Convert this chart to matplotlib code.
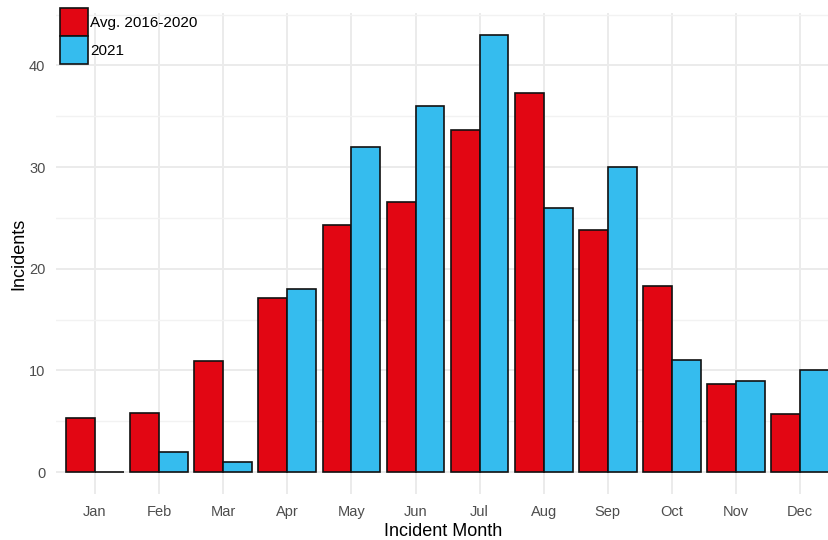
import numpy as np
import matplotlib.pyplot as plt
from matplotlib.patches import Patch

plt.rcParams['font.family'] = ['Liberation Sans', 'DejaVu Sans']

months = ['Jan', 'Feb', 'Mar', 'Apr', 'May', 'Jun', 'Jul', 'Aug', 'Sep', 'Oct', 'Nov', 'Dec']
avg_2016_2020 = [5.3, 5.8, 10.9, 17.1, 24.3, 26.6, 33.6, 37.3, 23.8, 18.3, 8.7, 5.7]
y2021 = [0, 2, 1, 18, 32, 36, 43, 26, 30, 11, 9, 10]

red = '#E20613'
blue = '#35BCEE'

fig = plt.figure(figsize=(8.29, 5.4), dpi=100)
ax = fig.add_axes([56.5 / 829, 46 / 540, 1 - 56.5 / 829, 481 / 540])

x = np.arange(1, len(months) + 1)
w = 0.45
ax.bar(x - w / 2, avg_2016_2020, width=w, color=red, edgecolor='#111111', linewidth=1.2, zorder=3)
ax.bar(x + w / 2, y2021, width=w, color=blue, edgecolor='#111111', linewidth=1.2, zorder=3)

ax.set_xlim(0.4, 12.45)
ax.set_ylim(-2.15, 45.15)
ax.set_xticks(x)
ax.set_xticklabels(months)
ax.set_yticks([0, 10, 20, 30, 40])
ax.set_yticks([5, 15, 25, 35, 45], minor=True)

ax.grid(True, which='major', color='#EBEBEB', linewidth=1.4, zorder=0)
ax.grid(True, which='minor', axis='y', color='#F2F2F2', linewidth=1.0, zorder=0)
ax.tick_params(which='both', length=0, pad=8, labelsize=10.5, labelcolor='#4D4D4D')
for s in ax.spines.values():
    s.set_visible(False)

ax.set_xlabel('Incident Month', fontsize=13, labelpad=3)
ax.set_ylabel('Incidents', fontsize=13, labelpad=1)

handles = [Patch(facecolor=red, edgecolor='#111111', linewidth=1.2, label='Avg. 2016-2020'),
           Patch(facecolor=blue, edgecolor='#111111', linewidth=1.2, label='2021')]
fig.legend(handles=handles, loc='upper left', bbox_to_anchor=(60 / 829, 1 - 8 / 540),
           frameon=False, fontsize=11, handlelength=1.85, handleheight=2.45,
           handletextpad=0.1, labelspacing=0.0, borderpad=0, borderaxespad=0)

fig.savefig('out.png', dpi=100)
